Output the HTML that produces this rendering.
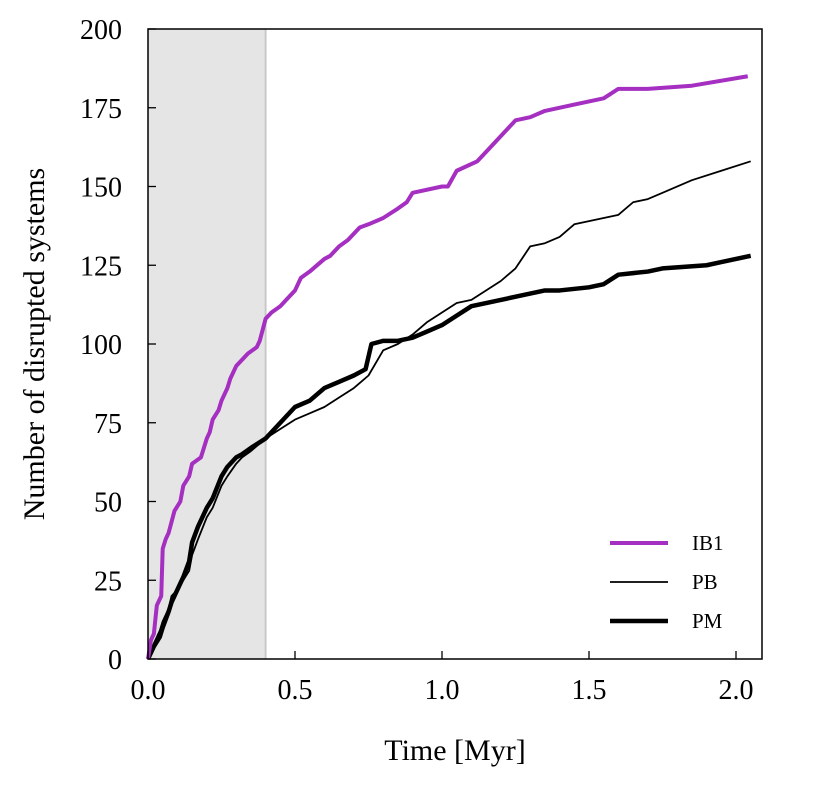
<!DOCTYPE html>
<html><head><meta charset="utf-8"><style>
body{margin:0;background:#fff;}
text{font-family:"Liberation Serif",serif;fill:#000;}
</style></head><body>
<svg id="chart" width="816" height="792" xmlns="http://www.w3.org/2000/svg">
<g id="g"></g>
</svg>
<script>
const xTicks=[0.0,0.5,1.0,1.5,2.0];
const xTickLabels=["0.0","0.5","1.0","1.5","2.0"];
const yTicks=[0,25,50,75,100,125,150,175,200];
const ib1T=[0,0.01,0.02,0.03,0.045,0.05,0.06,0.07,0.09,0.11,0.12,0.14,0.15,0.18,0.2,0.21,0.22,0.24,0.25,0.27,0.28,0.3,0.32,0.34,0.37,0.38,0.4,0.42,0.45,0.47,0.5,0.52,0.55,0.6,0.62,0.65,0.68,0.7,0.72,0.75,0.8,0.85,0.88,0.9,1.0,1.02,1.05,1.12,1.15,1.2,1.25,1.3,1.35,1.45,1.5,1.55,1.6,1.7,1.85,2.04];
const ib1V=[0,6,8,17,20,35,38,40,47,50,55,58,62,64,70,72,76,79,82,86,89,93,95,97,99,101,108,110,112,114,117,121,123,127,128,131,133,135,137,138,140,143,145,148,150,150,155,158,161,166,171,172,174,176,177,178,181,181,182,185];
const pbT=[0,0.02,0.04,0.05,0.07,0.08,0.1,0.12,0.14,0.15,0.17,0.2,0.22,0.25,0.27,0.3,0.32,0.35,0.4,0.45,0.5,0.55,0.6,0.65,0.7,0.75,0.8,0.85,0.9,0.95,1.0,1.05,1.1,1.2,1.25,1.3,1.35,1.4,1.45,1.5,1.55,1.6,1.65,1.7,1.75,1.85,1.95,2.05];
const pbV=[0,5,9,12,16,20,22,25,28,33,38,45,48,55,58,62,64,66,70,73,76,78,80,83,86,90,98,100,103,107,110,113,114,120,124,131,132,134,138,139,140,141,145,146,148,152,155,158];
const pmT=[0,0.02,0.04,0.05,0.07,0.08,0.1,0.12,0.14,0.15,0.17,0.2,0.22,0.25,0.27,0.3,0.32,0.35,0.4,0.45,0.5,0.55,0.6,0.65,0.7,0.74,0.76,0.8,0.85,0.9,0.95,1.0,1.05,1.1,1.2,1.3,1.35,1.4,1.5,1.55,1.6,1.7,1.75,1.9,1.95,2.05];
const pmV=[0,4,7,10,15,18,22,26,31,37,42,48,51,58,61,64,65,67,70,75,80,82,86,88,90,92,100,101,101,102,104,106,109,112,114,116,117,117,118,119,122,123,124,125,126,128];
const shadeEnd=0.4;

const L=148,R=762,T=29,B=659;
const X=v=>L+v*(736-L)/2.0;
const Y=v=>B-v*(B-T)/200;
const g=document.getElementById('g');
const NS="http://www.w3.org/2000/svg";
function mk(tag,attrs){const e=document.createElementNS(NS,tag);for(const k in attrs)e.setAttribute(k,attrs[k]);g.appendChild(e);return e;}

const sh=mk('rect',{x:L,y:T,width:X(shadeEnd)-L,height:B-T,fill:'#e5e5e5'});


const sl=mk('line',{x1:X(shadeEnd),x2:X(shadeEnd),y1:T,y2:B,stroke:'#c8c8c8','stroke-width':2});



function linePath(ts,vs){let d=`M${X(ts[0])},${Y(vs[0])}`;for(let i=1;i<ts.length;i++){d+=` L${X(ts[i])},${Y(vs[i])}`;}return d;}
const p1=mk('path',{d:linePath(pbT,pbV),fill:'none',stroke:'#000','stroke-width':1.8,'stroke-linejoin':'round'});


const p2=mk('path',{d:linePath(pmT,pmV),fill:'none',stroke:'#000','stroke-width':4.5,'stroke-linejoin':'round'});


const p3=mk('path',{d:linePath(ib1T,ib1V),fill:'none',stroke:'#a52fc0','stroke-width':4,'stroke-linejoin':'round'});



const fr=mk('rect',{x:L,y:T,width:R-L,height:B-T,fill:'none',stroke:'#000','stroke-width':1.5});



xTicks.forEach((v,i)=>{
  const t=mk('line',{x1:X(v),x2:X(v),y1:B,y2:B-8,stroke:'#000','stroke-width':1.3});
  
  
  const lb=mk('text',{x:X(v),y:B+40,'text-anchor':'middle','font-size':28});
  lb.textContent=xTickLabels[i];
  
  
});
yTicks.forEach(v=>{
  const t=mk('line',{x1:L,x2:L+8,y1:Y(v),y2:Y(v),stroke:'#000','stroke-width':1.3});
  
  
  const lb=mk('text',{x:L-26,y:Y(v)+10,'text-anchor':'end','font-size':28});
  lb.textContent=String(v);
  
  
});
const xl=mk('text',{x:455,y:760,'text-anchor':'middle','font-size':30});
xl.textContent='Time [Myr]';


const yl=mk('text',{x:0,y:0,'text-anchor':'middle','font-size':30,transform:'translate(44,344) rotate(-90)'});
yl.textContent='Number of disrupted systems';



const legNames=['IB1','PB','PM'];
const legStyles=[['#a52fc0',4],['#000',1.8],['#000',4.5]];
legNames.forEach((n,i)=>{
  const y=543+i*39;
  const ln=mk('line',{x1:610,x2:668,y1:y,y2:y,stroke:legStyles[i][0],'stroke-width':legStyles[i][1]});
  
  
  const tx=mk('text',{x:692,y:y+7,'font-size':21});
  tx.textContent=n;
  
  
});
</script>
</body></html>
